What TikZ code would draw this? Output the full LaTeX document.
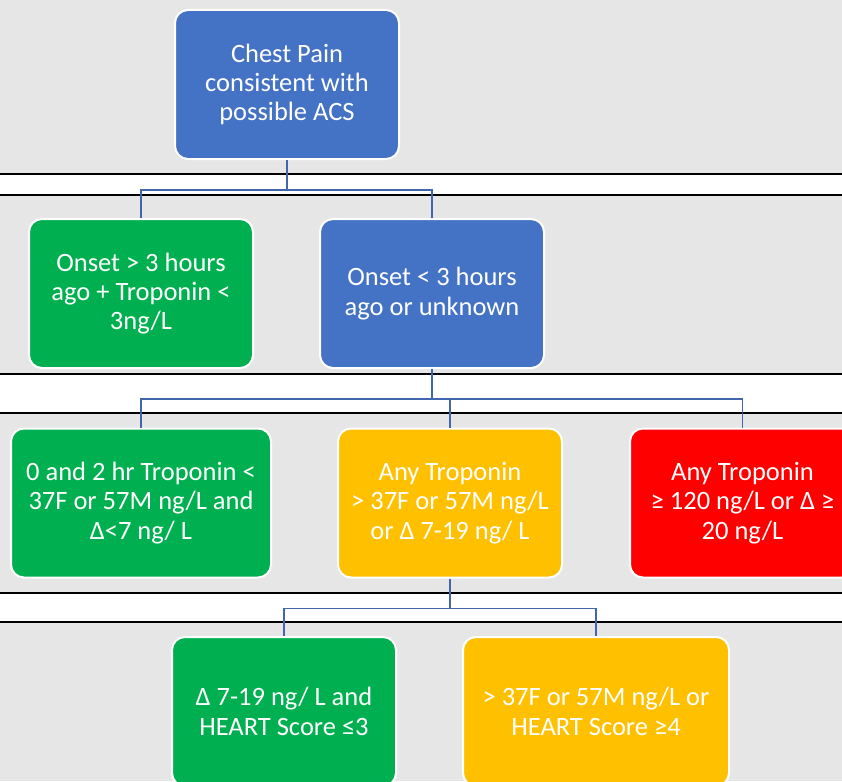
\documentclass[tikz,border=0pt]{standalone}
\usepackage{fontspec}
\setmainfont{Carlito}
\usepackage{tikz}
\usetikzlibrary{positioning}
\definecolor{acsblue}{HTML}{4472C4}
\definecolor{acsgreen}{HTML}{00B050}
\definecolor{acsyellow}{HTML}{FFC000}
\definecolor{acsred}{HTML}{FF0000}
\definecolor{acsgray}{HTML}{E6E6E6}
\definecolor{acsline}{HTML}{4166AE}
\tikzstyle{box}=[draw=white, line width=2pt, rounded corners=13pt, minimum width=224pt, minimum height=149pt, align=center, text=white, font=\fontsize{26.5}{29.3}\selectfont, execute at begin node={\rule{0pt}{30pt}}]
\tikzstyle{conn}=[draw=acsline, line width=1.6pt]
\tikzstyle{band}=[fill=white]
\tikzstyle{edge}=[black, line width=2pt]

\begin{document}
\begin{tikzpicture}[x=1pt, y=-1pt]
\clip (0,0) rectangle (842,781);
\fill[acsgray] (0,0) rectangle (842,781);
% white bands between the rows
\foreach \t/\b in {174/195, 374/413, 593/622} {
  \fill[band] (0,\t) rectangle (842,\b);
  \draw[edge] (0,\t) -- (842,\t);
  \draw[edge] (0,\b) -- (842,\b);
}

\node[box, fill=acsblue] (chest) at (287,84.5) {Chest Pain\\consistent with\\possible ACS};

\node[box, fill=acsgreen] (gt3) at (141,293.5) {Onset > 3 hours\\ago + Troponin <\\3ng/L};
\node[box, fill=acsblue] (lt3) at (432,293.5) {Onset < 3 hours\\ago or unknown};

\node[box, fill=acsgreen, minimum width=260pt] (low) at (141,503) {0 and 2 hr Troponin <\\37F or 57M ng/L and\\Δ<7 ng/ L};
\node[box, fill=acsyellow] (mid) at (450,503) {Any Troponin\\> 37F or 57M ng/L\\or Δ 7-19 ng/ L};
\node[box, fill=acsred, minimum width=225pt] (high) at (742.5,503) {Any Troponin\\≥ 120 ng/L or Δ ≥\\20 ng/L};

\node[box, fill=acsgreen] (heartlow) at (284,711.5) {Δ 7-19 ng/ L and\\HEART Score ≤3};
\node[box, fill=acsyellow, minimum width=266pt] (hearthigh) at (596,711.5) {> 37F or 57M ng/L or\\HEART Score ≥4};

\draw[conn] (chest.south) -- ++(0,30) -| (gt3.north);
\draw[conn] (chest.south) -- ++(0,30) -| (lt3.north);
\draw[conn] (lt3.south) -- ++(0,30) -| (low.north);
\draw[conn] (lt3.south) -- ++(0,30) -| (mid.north);
\draw[conn] (lt3.south) -- ++(0,30) -| (high.north);
\draw[conn] (mid.south) -- ++(0,30) -| (heartlow.north);
\draw[conn] (mid.south) -- ++(0,30) -| (hearthigh.north);

\end{tikzpicture}
\end{document}
